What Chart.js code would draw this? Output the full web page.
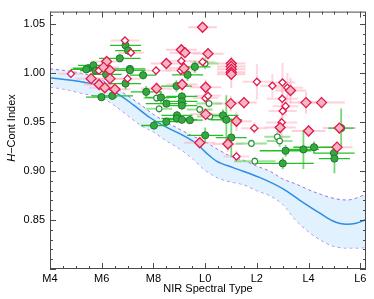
<!DOCTYPE html>
<html>
<head>
<meta charset="utf-8">
<script src="https://cdn.jsdelivr.net/npm/chart.js@4.4.1/dist/chart.umd.min.js"></script>
<style>
  html, body { margin: 0; padding: 0; background: #fff; }
  #c { display: block; }
</style>
</head>
<body>
<canvas id="c" width="374" height="299"></canvas>
<script>
// axis ticks (spectral type: M4 = 4 ... L0 = 10 ... L6 = 16)
const xTickValues = [4, 6, 8, 10, 12, 14, 16];
const xTickLabels = ['M4', 'M6', 'M8', 'L0', 'L2', 'L4', 'L6'];
const yTickValues = [0.85, 0.90, 0.95, 1.00, 1.05];
const yTickLabels = ['0.85', '0.90', '0.95', '1.00', '1.05'];

// large filled diamonds
const bigDiaX = [9.90, 9.08, 9.22, 10.11, 8.50, 6.19, 6.07, 6.32, 9.18, 11.01, 11.01, 11.01, 11.01, 11.01,
  5.59, 6.32, 5.90, 6.12, 6.51, 9.11, 8.12, 10.02, 10.99, 11.50, 13.30, 13.90, 14.50, 10.02, 11.21,
  12.90, 14.00, 15.19, 9.79, 10.88, 15.10];
const bigDiaY = [1.047, 1.024, 1.021, 1.020, 1.010, 1.012, 1.006, 1.003, 1.005, 1.010, 1.007, 1.004, 1.001, 0.999,
  0.9945, 0.9945, 0.9885, 0.9852, 0.9836, 0.9885, 0.9845, 0.9857, 0.969, 0.970, 0.9823, 0.970, 0.970, 0.958, 0.951,
  0.9445, 0.941, 0.944, 0.929, 0.9277, 0.9245];
const bigDiaXErr = [0.55, 0.6, 0.6, 0.6, 0.6, 0.6, 0.6, 0.6, 0.6, 0.55, 0.55, 0.55, 0.55, 0.55,
  0.6, 0.6, 0.6, 0.6, 0.6, 0.6, 0.6, 0.6, 0.6, 0.5, 0.6, 0.65, 0.9, 0.6, 0.6,
  0.6, 0.65, 0.65, 0.6, 0.6, 0.6];
const bigDiaYErr = [0.003, 0.004, 0.004, 0.006, 0.005, 0.004, 0.004, 0.004, 0.005, 0.004, 0.004, 0.004, 0.016, 0.004,
  0.004, 0.004, 0.004, 0.004, 0.004, 0.006, 0.006, 0.008, 0.008, 0.006, 0.013, 0.011, 0.006, 0.006, 0.01,
  0.01, 0.006, 0.006, 0.006, 0.008, 0.006];

// small open diamonds
const smallDiaX = [6.90, 7.13, 4.81, 8.10, 9.08, 9.90, 9.06, 5.89, 7.00, 12.00, 12.60, 12.99, 13.18, 12.98,
  13.11, 13.00, 12.96, 11.90, 11.21, 10.01, 10.11];
const smallDiaY = [1.0334, 1.021, 0.9994, 1.0027, 1.0126, 1.0116, 1.0027, 1.0027, 0.9945, 0.9912, 0.9872, 0.9905, 0.9852, 0.9739,
  0.9664, 0.9614, 0.9498, 0.9439, 0.915, 0.9746, 0.9769];
const smallDiaXErr = [0.55, 0.5, 0.5, 0.6, 0.6, 0.5, 0.6, 0.5, 0.5, 0.55, 0.45, 0.5, 0.6, 0.6,
  0.5, 0.55, 0.6, 0.5, 0.5, 0.5, 0.5];
const smallDiaYErr = [0.004, 0.004, 0.004, 0.004, 0.005, 0.005, 0.004, 0.004, 0.004, 0.018, 0.012, 0.02, 0.015, 0.012,
  0.01, 0.008, 0.02, 0.006, 0.006, 0.006, 0.006];

// filled green circles
const greenX = [6.92, 7.02, 6.70, 7.09, 7.09, 5.48, 5.68, 5.76, 5.40, 6.17, 7.60, 9.32, 9.60, 6.92, 5.99, 6.41,
  7.72, 8.29, 8.50, 8.89, 9.10, 9.10, 9.10, 8.91, 8.91, 9.10, 9.41, 8.50, 8.02, 10.00, 10.69, 10.82, 11.01,
  13.11, 13.80, 14.21, 13.00, 14.98, 15.00, 15.26];
const greenY = [1.0285, 1.0232, 1.0153, 1.0044, 1.0030, 1.0051, 1.008, 1.0027, 1.004, 0.9988, 0.998, 0.9984, 1.0066, 0.9895, 0.9756, 0.9769,
  0.981, 0.9753, 0.969, 0.9869, 0.9763, 0.9713, 0.967, 0.957, 0.9538, 0.9525, 0.9521, 0.9505, 0.9466, 0.9366, 0.957, 0.9525, 0.9343,
  0.9208, 0.9222, 0.9244, 0.9079, 0.9184, 0.9128, 0.944];
const greenXErr = [0.6, 0.5, 0.8, 0.6, 0.6, 0.6, 0.6, 0.6, 0.6, 0.6, 0.5, 0.6, 0.6, 0.6, 0.6, 0.8,
  0.6, 0.6, 0.8, 0.6, 0.6, 0.6, 0.6, 0.6, 0.6, 0.6, 0.5, 0.5, 0.5, 0.7, 0.6, 0.6, 0.6,
  1.0, 0.6, 0.8, 1.2, 0.8, 0.6, 0.5];
const greenYErr = [0.004, 0.004, 0.004, 0.004, 0.004, 0.004, 0.004, 0.004, 0.004, 0.004, 0.004, 0.006, 0.006, 0.006, 0.004, 0.004,
  0.006, 0.006, 0.004, 0.006, 0.004, 0.004, 0.004, 0.004, 0.004, 0.004, 0.004, 0.004, 0.004, 0.008, 0.006, 0.025, 0.02,
  0.006, 0.02, 0.006, 0.006, 0.008, 0.015, 0.02];

// small open green circles
const openGreenX = [8.22, 8.12, 9.79, 10.00, 10.18, 11.79, 11.92, 12.79, 12.88, 10.15];
const openGreenY = [0.9637, 0.9746, 0.963, 1.010, 0.9558, 0.9283, 0.9102, 0.935, 0.9307, 0.969];
const openGreenXErr = [0.5, 0.5, 0.5, 0.5, 0.5, 0.6, 0.8, 0.5, 0.5, 0.5];
const openGreenYErr = [0.004, 0.004, 0.004, 0.006, 0.004, 0.004, 0.004, 0.006, 0.006, 0.004];

// model sequence and its spread
const modelX = [4.0, 5.02, 6.06, 6.57, 7.21, 7.86, 8.50, 9.14, 9.66, 10.05, 10.44, 11.08, 12.10, 13.00, 13.65, 14.42, 14.94, 15.46, 15.84, 16.22];
const modelY = [0.9955, 0.9921, 0.9862, 0.9796, 0.968, 0.9548, 0.9449, 0.9366, 0.9283, 0.9184, 0.9102, 0.9036, 0.8936, 0.8821, 0.8705, 0.8573, 0.849, 0.8457, 0.8467, 0.8505];
const bandX = [4.0, 4.5, 5.0, 5.5, 6.0, 6.5, 7.0, 7.5, 8.0, 8.5, 9.0, 9.5, 10.0, 10.5, 11.0, 11.5, 12.0, 12.5, 13.0, 13.5, 14.0, 14.5, 15.0, 15.5, 16.0, 16.22];
const bandHi = [1.0045, 1.003, 1.001, 0.998, 0.993, 0.986, 0.977, 0.968, 0.958, 0.950, 0.943, 0.936, 0.930, 0.922, 0.915, 0.911, 0.905, 0.900, 0.892, 0.887, 0.881, 0.876, 0.872, 0.8705, 0.874, 0.877];
const bandLo = [0.986, 0.984, 0.981, 0.978, 0.975, 0.967, 0.957, 0.947, 0.940, 0.931, 0.923, 0.913, 0.901, 0.893, 0.889, 0.886, 0.880, 0.875, 0.866, 0.850, 0.838, 0.829, 0.823, 0.8215, 0.8215, 0.822];

const FONT = '"Liberation Sans", Arial, Helvetica, sans-serif';
const pairs = (xs, ys) => xs.map((x, i) => ({ x: x, y: ys[i] }));

// error bars, frame with inward ticks, axis titles
const extras = {
  id: 'extras',
  beforeDatasetDraw(chart, args) {
    if (args.index !== 3) return; // once, under every marker
    const { ctx, chartArea, scales: { x, y } } = chart;
    ctx.save();
    ctx.beginPath();
    ctx.rect(chartArea.left, chartArea.top, chartArea.right - chartArea.left, chartArea.bottom - chartArea.top);
    ctx.clip();
    [1, 0, 3, 2].forEach((di) => {
      const ds = chart.data.datasets[di];
      ctx.lineCap = 'butt';
      ds.data.forEach((p, j) => {
        const px = x.getPixelForValue(p.x), py = y.getPixelForValue(p.y);
        ctx.strokeStyle = ds.barColorX;
        ctx.lineWidth = ds.barWidthX;
        ctx.beginPath();
        ctx.moveTo(x.getPixelForValue(p.x - ds.errX[j]), py);
        ctx.lineTo(x.getPixelForValue(p.x + ds.errX[j]), py);
        ctx.stroke();
        ctx.strokeStyle = ds.barColorY;
        ctx.lineWidth = ds.barWidthY;
        ctx.beginPath();
        ctx.moveTo(px, y.getPixelForValue(p.y - ds.errY[j]));
        ctx.lineTo(px, y.getPixelForValue(p.y + ds.errY[j]));
        ctx.stroke();
      });
    });
    ctx.restore();
  },
  afterDraw(chart) {
    const { ctx, chartArea: { left, right, top, bottom }, scales: { x, y } } = chart;
    ctx.save();
    ctx.strokeStyle = '#4a4a4a';
    ctx.lineWidth = 1;
    ctx.strokeRect(left + 0.5, top + 0.5, right - left - 1, bottom - top - 1);
    ctx.beginPath();
    for (let v = 4; v <= 16.001; v += 0.5) {
      const px = Math.round(x.getPixelForValue(v)) + 0.5;
      const len = (Math.abs(v / 2 - Math.round(v / 2)) < 1e-6) ? 6 : 3;
      ctx.moveTo(px, bottom); ctx.lineTo(px, bottom - len);
      ctx.moveTo(px, top); ctx.lineTo(px, top + len);
    }
    for (let k = 80; k <= 106; k++) {
      const py = Math.round(y.getPixelForValue(k / 100)) + 0.5;
      const len = (k % 5 === 0) ? 6 : 3;
      ctx.moveTo(left, py); ctx.lineTo(left + len, py);
      ctx.moveTo(right, py); ctx.lineTo(right - len, py);
    }
    ctx.stroke();

    ctx.fillStyle = '#000';
    ctx.font = '11px ' + FONT;
    ctx.textAlign = 'center';
    ctx.textBaseline = 'middle';
    ctx.fillText('NIR Spectral Type', (left + right) / 2, 289);

    // y title with italic H
    ctx.translate(12, 128);
    ctx.rotate(-Math.PI / 2);
    ctx.textAlign = 'left';
    ctx.font = 'italic 11px ' + FONT;
    const wH = ctx.measureText('H').width;
    ctx.font = '11px ' + FONT;
    const rest = '\u2212Cont Index';
    const wR = ctx.measureText(rest).width;
    const x0 = -(wH + wR) / 2;
    ctx.font = 'italic 11px ' + FONT;
    ctx.fillText('H', x0, 0);
    ctx.font = '11px ' + FONT;
    ctx.fillText(rest, x0 + wH, 0);
    ctx.restore();
  }
};

const config = {
  type: 'scatter',
  data: {
    datasets: [
      {
        label: 'big',
        data: pairs(bigDiaX, bigDiaY),
        errX: bigDiaXErr, errY: bigDiaYErr,
        barColorX: 'rgba(255,175,192,0.6)', barWidthX: 2,
        barColorY: 'rgba(255,175,192,0.6)', barWidthY: 2,
        pointStyle: 'rectRot', pointRadius: 5,
        backgroundColor: '#f9b4c3', borderColor: '#e0194a', borderWidth: 1.3
      },
      {
        label: 'small',
        data: pairs(smallDiaX, smallDiaY),
        errX: smallDiaXErr, errY: smallDiaYErr,
        barColorX: 'rgba(255,180,196,0.55)', barWidthX: 2,
        barColorY: 'rgba(255,180,196,0.55)', barWidthY: 2,
        pointStyle: 'rectRot', pointRadius: 3.6,
        backgroundColor: '#ffffff', borderColor: '#e0194a', borderWidth: 1.3
      },
      {
        label: 'green',
        data: pairs(greenX, greenY),
        errX: greenXErr, errY: greenYErr,
        barColorX: '#26c026', barWidthX: 1.3,
        barColorY: 'rgba(70,200,70,0.75)', barWidthY: 1.8,
        pointStyle: 'circle', pointRadius: 3.6,
        backgroundColor: '#36a843', borderColor: '#1d7a2b', borderWidth: 1
      },
      {
        label: 'greenOpen',
        data: pairs(openGreenX, openGreenY),
        errX: openGreenXErr, errY: openGreenYErr,
        barColorX: 'rgba(110,215,110,0.7)', barWidthX: 2,
        barColorY: 'rgba(110,215,110,0.7)', barWidthY: 2,
        pointStyle: 'circle', pointRadius: 2.8,
        backgroundColor: '#ffffff', borderColor: '#2a8a3c', borderWidth: 1.1
      },
      {
        label: 'model',
        type: 'line',
        data: pairs(modelX, modelY),
        borderColor: '#2b8de6', borderWidth: 1.5,
        pointRadius: 0, fill: false, cubicInterpolationMode: 'monotone'
      },
      {
        label: 'upper',
        type: 'line',
        data: pairs(bandX, bandHi),
        borderColor: '#9a6fe6', borderWidth: 1, borderDash: [3, 3],
        pointRadius: 0, cubicInterpolationMode: 'monotone',
        fill: '+1', backgroundColor: 'rgba(215,236,252,0.75)'
      },
      {
        label: 'lower',
        type: 'line',
        data: pairs(bandX, bandLo),
        borderColor: '#9a6fe6', borderWidth: 1, borderDash: [3, 3],
        pointRadius: 0, cubicInterpolationMode: 'monotone', fill: false
      }
    ]
  },
  options: {
    responsive: false,
    devicePixelRatio: 1,
    animation: false,
    layout: { padding: { left: 0, top: 5, right: 8, bottom: 0 } },
    plugins: { legend: { display: false }, tooltip: { enabled: false } },
    scales: {
      x: {
        type: 'linear', min: 4, max: 16.22,
        grid: { display: false, drawTicks: false }, border: { display: false },
        afterBuildTicks: (s) => { s.ticks = xTickValues.map((v) => ({ value: v })); },
        afterFit: (s) => { s.height = 30; },
        ticks: {
          autoSkip: false, maxRotation: 0, padding: 3, color: '#000',
          font: { family: FONT, size: 11 },
          callback: (v, i) => xTickLabels[i]
        }
      },
      y: {
        type: 'linear', min: 0.80, max: 1.063,
        grid: { display: false, drawTicks: false }, border: { display: false },
        afterBuildTicks: (s) => { s.ticks = yTickValues.map((v) => ({ value: v })); },
        afterFit: (s) => { s.width = 50; },
        ticks: {
          autoSkip: false, padding: 5, color: '#000',
          font: { family: FONT, size: 11 },
          callback: (v, i) => yTickLabels[i]
        }
      }
    }
  },
  plugins: [extras]
};

const myChart = new Chart(document.getElementById('c'), config);
</script>
</body>
</html>
